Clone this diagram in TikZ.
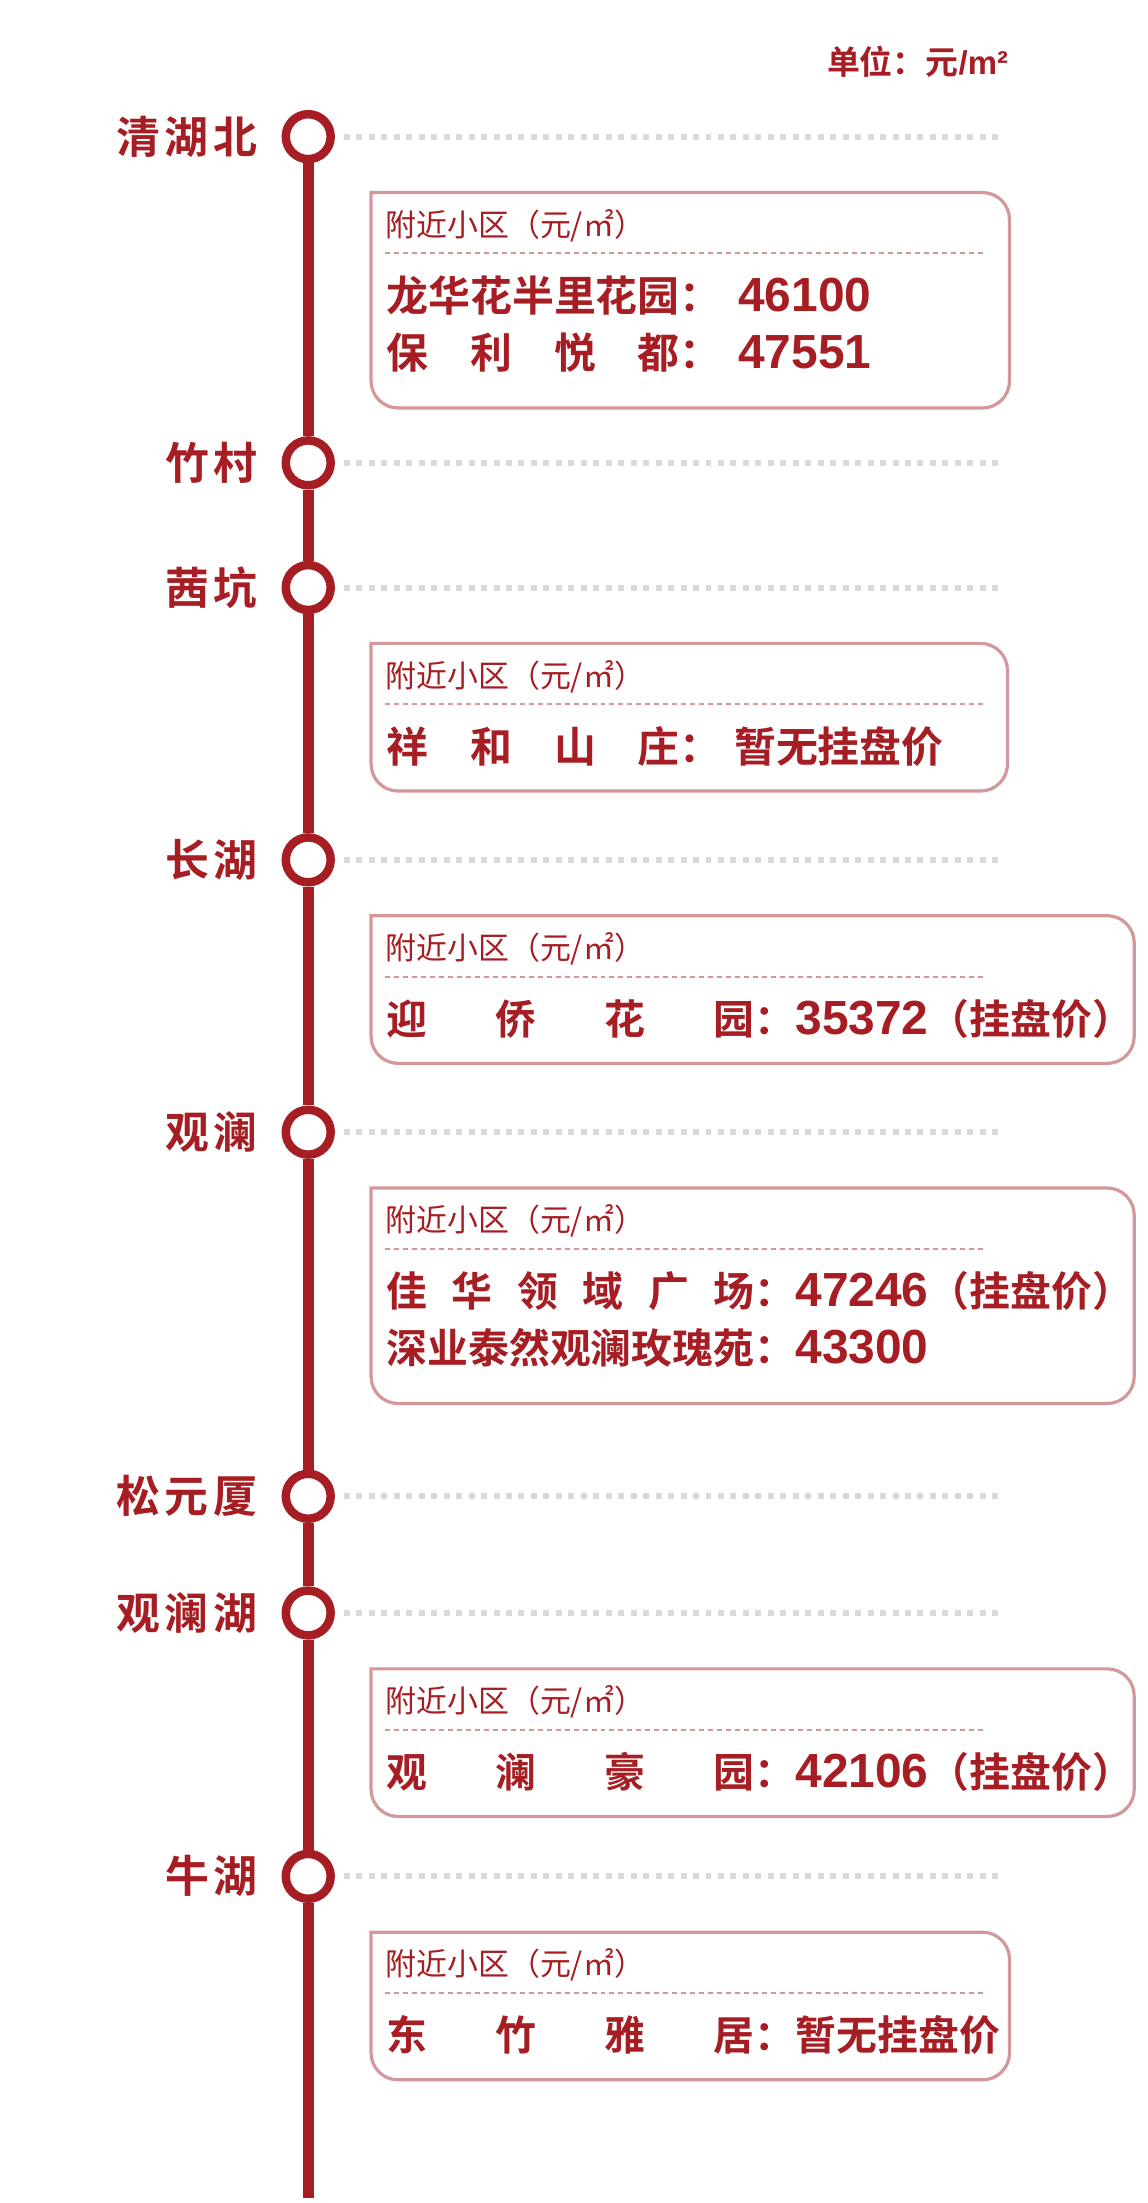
\documentclass[tikz,border=0pt]{standalone}
\usepackage{fontspec}
\usetikzlibrary{positioning}
\setmainfont{Liberation Sans}
\newfontfamily\cjkfont[BoldFont={* Bold}]{Noto Sans CJK SC}
\newfontfamily\stationfont[BoldFont={* Bold},LetterSpace=10]{Noto Sans CJK SC}
\newfontfamily\numfont{Liberation Sans}

\definecolor{linered}{HTML}{A61E23}
\definecolor{boxpink}{HTML}{D4979B}
\definecolor{dotgray}{HTML}{DADADA}

\tikzset{
	station/.style={circle, draw=linered, line width=4.25pt, fill=white, minimum size=22.5pt, inner sep=0pt},
	trunk/.style={draw=linered, line width=5.5pt},
	stname/.style={inner sep=0pt, text=linered, font=\stationfont\bfseries\fontsize{22pt}{22pt}\selectfont},
	dotrule/.style={draw=dotgray, line width=3pt, dash pattern=on 3pt off 3.25pt},
	infobox/.style={draw=boxpink, line width=1.6pt, rounded corners=13.5pt, line cap=rect},
	sepline/.style={draw=boxpink, line width=1pt, dash pattern=on 2.5pt off 2pt},
	headtext/.style={anchor=west, inner sep=0pt, text=linered, font=\cjkfont\fontsize{15.5pt}{15.5pt}\selectfont},
	rowtext/.style={anchor=west, inner sep=0pt, text=linered, font=\cjkfont\bfseries\fontsize{21pt}{21pt}\selectfont},
	rowwide/.style={rowtext, font=\cjkfont\bfseries\fontsize{20.5pt}{20.5pt}\selectfont},
}
\newcommand{\price}[1]{{\numfont\bfseries\fontsize{24pt}{24pt}\selectfont #1}}
\newcommand{\spreadname}[2]{\makebox[#1em][s]{#2}}

\begin{document}
\begin{tikzpicture}[x=0.5pt, y=-0.5pt]
	\fill[white] (0,0) rectangle (1150,2203);

	\node[anchor=east, inner sep=0pt, text=linered, font=\cjkfont\bfseries\fontsize{16.5pt}{16.5pt}\selectfont] (unit) at (1011,62) {单位：元{\numfont\bfseries /m²}};

	\node[station] (qhb) at (309,137) {};
	\node[station] (zc) at (309,464) {};
	\node[station] (xk) at (309,589) {};
	\node[station] (ch) at (309,862) {};
	\node[station] (gl) at (309,1135) {};
	\node[station] (syx) at (309,1500) {};
	\node[station] (glh) at (309,1617) {};
	\node[station] (nh) at (309,1881) {};
	\coordinate (lineend) at (309,2203);

	\draw[trunk] (qhb) -- (zc) -- (xk) -- (ch) -- (gl) -- (syx) -- (glh) -- (nh) -- (lineend);

	\node[stname, left=12pt of qhb] (qhb-name) {清湖北};
	\node[stname, left=12pt of zc] (zc-name) {竹村};
	\node[stname, left=12pt of xk] (xk-name) {茜坑};
	\node[stname, left=12pt of ch] (ch-name) {长湖};
	\node[stname, left=12pt of gl] (gl-name) {观澜};
	\node[stname, left=12pt of syx] (syx-name) {松元厦};
	\node[stname, left=12pt of glh] (glh-name) {观澜湖};
	\node[stname, left=12pt of nh] (nh-name) {牛湖};

	\coordinate (qhb-r) at (1002,137);
	\coordinate (zc-r) at (1002,464);
	\coordinate (xk-r) at (1002,589);
	\coordinate (ch-r) at (1002,862);
	\coordinate (gl-r) at (1002,1135);
	\coordinate (syx-r) at (1002,1500);
	\coordinate (glh-r) at (1002,1617);
	\coordinate (nh-r) at (1002,1881);
	\draw[dotrule] ([xshift=4.5pt]qhb.east) -- (qhb-r);
	\draw[dotrule] ([xshift=4.5pt]zc.east) -- (zc-r);
	\draw[dotrule] ([xshift=4.5pt]xk.east) -- (xk-r);
	\draw[dotrule] ([xshift=4.5pt]ch.east) -- (ch-r);
	\draw[dotrule] ([xshift=4.5pt]gl.east) -- (gl-r);
	\draw[dotrule] ([xshift=4.5pt]syx.east) -- (syx-r);
	\draw[dotrule] ([xshift=4.5pt]glh.east) -- (glh-r);
	\draw[dotrule] ([xshift=4.5pt]nh.east) -- (nh-r);

	\draw[infobox] (372,193) -- (1012,193) -- (1012,409) -- (372,409) -- (372,193);
	\draw[sepline] (386,254) -- (985,254);
	\node[headtext] (b1-head) at (386,226) {附近小区（元/㎡）};
	\node[rowtext] (b1-row1) at (387,296) {龙华花半里花园：\hspace{0.4em}\price{46100}};
	\node[rowtext] (b1-row2) at (387,353) {\spreadname{7}{保\hfill 利\hfill 悦\hfill 都}：\hspace{0.4em}\price{47551}};

	\draw[infobox] (372,645) -- (1010,645) -- (1010,793) -- (372,793) -- (372,645);
	\draw[sepline] (386,706) -- (985,706);
	\node[headtext] (b2-head) at (386,678) {附近小区（元/㎡）};
	\node[rowtext] (b2-row1) at (387,748) {\spreadname{7}{祥\hfill 和\hfill 山\hfill 庄}：\hspace{0.3em}暂无挂盘价};

	\draw[infobox] (372,918) -- (1137,918) -- (1137,1066) -- (372,1066) -- (372,918);
	\draw[sepline] (386,979) -- (985,979);
	\node[headtext] (b3-head) at (386,951) {附近小区（元/㎡）};
	\node[rowwide] (b3-row1) at (387,1021) {\spreadname{9}{迎\hfill 侨\hfill 花\hfill 园}：\price{35372}（挂盘价）};

	\draw[infobox] (372,1191) -- (1137,1191) -- (1137,1407) -- (372,1407) -- (372,1191);
	\draw[sepline] (386,1252) -- (985,1252);
	\node[headtext] (b4-head) at (386,1224) {附近小区（元/㎡）};
	\node[rowwide] (b4-row1) at (387,1294) {\spreadname{9}{佳\hfill 华\hfill 领\hfill 域\hfill 广\hfill 场}：\price{47246}（挂盘价）};
	\node[rowwide] (b4-row2) at (387,1351) {深业泰然观澜玫瑰苑：\price{43300}};

	\draw[infobox] (372,1673) -- (1137,1673) -- (1137,1821) -- (372,1821) -- (372,1673);
	\draw[sepline] (386,1734) -- (985,1734);
	\node[headtext] (b5-head) at (386,1706) {附近小区（元/㎡）};
	\node[rowwide] (b5-row1) at (387,1776) {\spreadname{9}{观\hfill 澜\hfill 豪\hfill 园}：\price{42106}（挂盘价）};

	\draw[infobox] (372,1937) -- (1012,1937) -- (1012,2085) -- (372,2085) -- (372,1937);
	\draw[sepline] (386,1998) -- (985,1998);
	\node[headtext] (b6-head) at (386,1970) {附近小区（元/㎡）};
	\node[rowwide] (b6-row1) at (387,2040) {\spreadname{9}{东\hfill 竹\hfill 雅\hfill 居}：暂无挂盘价};
\end{tikzpicture}
\end{document}
